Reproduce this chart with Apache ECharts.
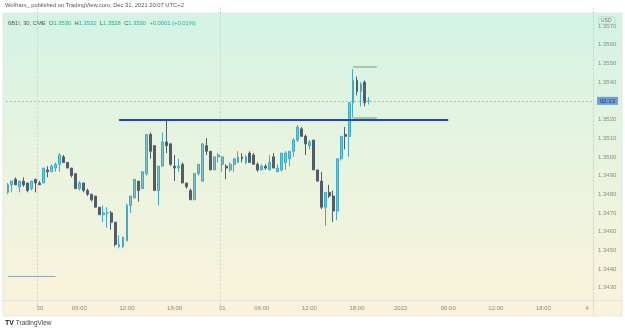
<!DOCTYPE html>
<html><head><meta charset="utf-8">
<script src="https://cdn.jsdelivr.net/npm/echarts@6/dist/echarts.min.js"></script>
<style>html,body{margin:0;padding:0;background:#fff}#c{width:625px;height:333px}</style>
</head><body><div id="c"></div>
<script>
// ---- data (30-min bars, 6B1! CME) ----
const opens  = [1.3481,1.3485,1.3488,1.3484,1.3487,1.3486,1.3483,1.3488,1.3486,1.3486,1.3493,1.3492,1.3494,1.3496,1.3500,1.3497,1.3494,1.3491,1.3483,1.3486,1.3482,1.3480,1.3479,1.3473,1.3469,1.3470,1.3470,1.3465,1.3452,1.3452,1.3455,1.3474,1.3478,1.3487,1.3483,1.3491,1.3512,1.3506,1.3482,1.3495,1.3508,1.3507,1.3495,1.3494,1.3496,1.3486,1.3482,1.3477,1.3491,1.3487,1.3506,1.3503,1.3493,1.3500,1.3496,1.3495,1.3493,1.3496,1.3497,1.3500,1.3497,1.3502,1.3501,1.3496,1.3493,1.3495,1.3493,1.3500,1.3492,1.3493,1.3497,1.3499,1.3503,1.3509,1.3515,1.3511,1.3506,1.3509,1.3493,1.3487,1.3473,1.3481,1.3479,1.3471,1.3499,1.3512,1.3511,1.3529,1.3541,1.3535,1.3540,1.3530];
const closes = [1.3485,1.3487,1.3485,1.3487,1.3485,1.3482,1.3487,1.3486,1.3485,1.3494,1.3492,1.3495,1.3496,1.3501,1.3497,1.3494,1.3490,1.3483,1.3486,1.3482,1.3480,1.3477,1.3473,1.3469,1.3470,1.3470,1.3465,1.3453,1.3453,1.3457,1.3474,1.3479,1.3488,1.3482,1.3492,1.3512,1.3503,1.3482,1.3495,1.3508,1.3506,1.3496,1.3494,1.3495,1.3486,1.3484,1.3477,1.3491,1.3496,1.3507,1.3503,1.3493,1.3500,1.3501,1.3500,1.3494,1.3496,1.3499,1.3500,1.3499,1.3500,1.3497,1.3496,1.3493,1.3495,1.3494,1.3497,1.3494,1.3494,1.3502,1.3502,1.3503,1.3509,1.3516,1.3511,1.3507,1.3508,1.3493,1.3487,1.3473,1.3481,1.3479,1.3471,1.3499,1.3511,1.3511,1.3529,1.3541,1.3535,1.3539,1.3529,1.3530];
const lows   = [1.3480,1.3481,1.3485,1.3481,1.3484,1.3481,1.3482,1.3481,1.3485,1.3486,1.3489,1.3492,1.3492,1.3492,1.3497,1.3494,1.3489,1.3483,1.3482,1.3481,1.3479,1.3476,1.3473,1.3469,1.3465,1.3462,1.3461,1.3452,1.3451,1.3451,1.3455,1.3470,1.3478,1.3476,1.3483,1.3490,1.3499,1.3482,1.3474,1.3495,1.3502,1.3495,1.3487,1.3492,1.3486,1.3483,1.3477,1.3477,1.3490,1.3487,1.3501,1.3493,1.3493,1.3497,1.3492,1.3488,1.3492,1.3492,1.3497,1.3497,1.3496,1.3497,1.3496,1.3492,1.3493,1.3493,1.3493,1.3494,1.3492,1.3492,1.3493,1.3495,1.3500,1.3508,1.3511,1.3501,1.3504,1.3493,1.3487,1.3472,1.3463,1.3478,1.3465,1.3466,1.3498,1.3504,1.3500,1.3521,1.3533,1.3527,1.3527,1.3528];
const highs  = [1.3486,1.3487,1.3489,1.3487,1.3489,1.3486,1.3487,1.3488,1.3487,1.3494,1.3495,1.3496,1.3497,1.3502,1.3501,1.3497,1.3494,1.3491,1.3487,1.3486,1.3483,1.3480,1.3479,1.3473,1.3474,1.3473,1.3471,1.3465,1.3458,1.3457,1.3475,1.3479,1.3488,1.3487,1.3492,1.3512,1.3513,1.3506,1.3495,1.3513,1.3520,1.3507,1.3501,1.3499,1.3497,1.3486,1.3483,1.3491,1.3496,1.3507,1.3510,1.3503,1.3500,1.3502,1.3500,1.3496,1.3497,1.3499,1.3503,1.3502,1.3501,1.3503,1.3502,1.3497,1.3496,1.3496,1.3501,1.3502,1.3496,1.3502,1.3503,1.3503,1.3510,1.3517,1.3516,1.3512,1.3509,1.3509,1.3493,1.3492,1.3481,1.3485,1.3482,1.3499,1.3511,1.3516,1.3529,1.3547,1.3543,1.3540,1.3541,1.3532];
const barCount = 148;                       // visible bar slots incl. future space
const tickIdx    = [8,18,30,42,54,64,76,88,99,111,123,135,146];
const tickLabels = ['30','06:00','12:00','18:00','31','06:00','12:00','18:00','2022','06:00','12:00','18:00','4'];
const daySepIdx  = [8,54];
const resistance = {price:1.3520, from:28, to:111};
const rangeBox   = {hi:1.3548, lo:1.3521, from:87, to:93};
const oldLevel   = {price:1.3436, from:0, to:12};
const lastPrice  = 1.3530;
const countdown  = '02:13';

const categories = Array.from({length:barCount}, (_, i) => {
  const k = tickIdx.indexOf(i); return k >= 0 ? tickLabels[k] : '';
});
const ohlc = opens.map((o, i) => [o, closes[i], lows[i], highs[i]]);
const n = opens.length - 1;
const fmt = v => v.toFixed(4);
const chg = closes[n] - closes[n-1];
const pct = chg / closes[n-1] * 100;

const UP = '#72c7d6', UPB = '#44a8c3', DN = '#535d68';
const FONT = 'Liberation Sans, Arial, sans-serif';

const chart = echarts.init(document.getElementById('c'), null, {renderer:'canvas'});
chart.setOption({
  animation:false,
  backgroundColor:'#ffffff',
  textStyle:{fontFamily:FONT},
  graphic:[
    {type:'rect', z:-100, shape:{x:3,y:13,width:619,height:303},
     style:{fill:new echarts.graphic.LinearGradient(0,0,0,1,[
       {offset:0,color:'#d3f3e6'},{offset:0.5,color:'#e9f4df'},{offset:1,color:'#fcf2db'}]), stroke:'#e3e6e3', lineWidth:1}},
    {type:'line', z:-50, shape:{x1:593.5,y1:13,x2:593.5,y2:316}, style:{stroke:'#e2e5dc',lineWidth:1}},
    {type:'line', z:-50, shape:{x1:3,y1:300.5,x2:622,y2:300.5}, style:{stroke:'#e2e5dc',lineWidth:1}},
    {type:'text', left:5, top:2, style:{text:'Wolfram_ published on TradingView.com, Dec 31, 2021 20:07 UTC+2', fill:'#555', font:'5.8px '+FONT}},
    {type:'text', left:8, top:17, style:{
      text:'{s|6B1!, 30, CME} {s|O}{v|'+fmt(opens[n])+'} {s|H}{v|'+fmt(highs[n])+'} {s|L}{v|'+fmt(lows[n])+'} {s|C}{v|'+fmt(closes[n])+'} {v|'+(chg>=0?'+':'')+fmt(chg)+' (+'+pct.toFixed(2)+'%)}',
      rich:{s:{fill:'#555',fontSize:5.8,fontFamily:FONT}, v:{fill:'#2fa896',fontSize:5.8,fontFamily:FONT}}}},
    {type:'rect', z:10, shape:{x:599,y:17,width:16,height:7,r:1}, style:{fill:'#d9f1e6',stroke:'#b8c6c0',lineWidth:0.6}},
    {type:'text', z:11, left:601, top:18, style:{text:'USD', fill:'#777', font:'5px '+FONT}},
    {type:'text', left:5, top:320, style:{text:'{b|TV} TradingView', rich:{b:{fontWeight:'bold',fill:'#222',fontSize:7}}, fill:'#444', font:'6.5px '+FONT}}
  ],
  grid:{left:6, right:32, top:7.5, bottom:26.8, containLabel:false},
  xAxis:{
    type:'category', data:categories, boundaryGap:true,
    axisLine:{show:false}, axisTick:{show:false},
    axisLabel:{interval:0, color:'#8a8a8a', fontSize:6, margin:-1, fontFamily:FONT},
    splitLine:{show:true, interval:(i)=>daySepIdx.indexOf(i)>=0, lineStyle:{color:'#c9d3cc', type:[2,2], width:1}}
  },
  yAxis:{
    type:'value', position:'right', min:1.342, max:1.358, interval:0.001, scale:true,
    axisLine:{show:false}, axisTick:{show:false}, splitLine:{show:false},
    axisLabel:{color:'#8a8a8a', fontSize:6, margin:5, fontFamily:FONT, showMinLabel:false, showMaxLabel:false,
      formatter:v=>v.toFixed(4)}
  },
  series:[{
    type:'candlestick', data:ohlc, barWidth:2.4,
    itemStyle:{color:UP, color0:DN, borderColor:UPB, borderColor0:DN, borderWidth:1},
    markLine:{
      silent:true, symbol:['none','none'], animation:false, precision:4,
      data:[
        [{coord:[resistance.from,resistance.price], lineStyle:{color:'#1f44c6',width:2,type:'solid'}, label:{show:false}},
         {coord:[resistance.to,resistance.price]}],
        [{coord:[rangeBox.from,rangeBox.hi], lineStyle:{color:'#a9c9a6',width:2,type:'solid'}, label:{show:false}},
         {coord:[rangeBox.to,rangeBox.hi]}],
        [{coord:[rangeBox.from,rangeBox.lo], lineStyle:{color:'#a9c9a6',width:2,type:'solid'}, label:{show:false}},
         {coord:[rangeBox.to,rangeBox.lo]}],
        [{coord:[oldLevel.from,oldLevel.price], lineStyle:{color:'#93a7b6',width:1,type:'solid'}, label:{show:false}},
         {coord:[oldLevel.to,oldLevel.price]}]
      ]
    }
  },{
    type:'line', data:[], silent:true,
    markLine:{
      silent:true, symbol:['none','none'], animation:false, precision:4,
      data:[
        {yAxis:lastPrice, lineStyle:{color:'#b3bdbd',width:1,type:[2,2]},
         label:{show:true, position:'end', formatter:countdown, distance:4, color:'#1e3a6a', fontSize:6, fontFamily:FONT,
                backgroundColor:'#6b9fd6', padding:[1,3,1,3]}}
      ]
    }
  }]
});
</script></body></html>
